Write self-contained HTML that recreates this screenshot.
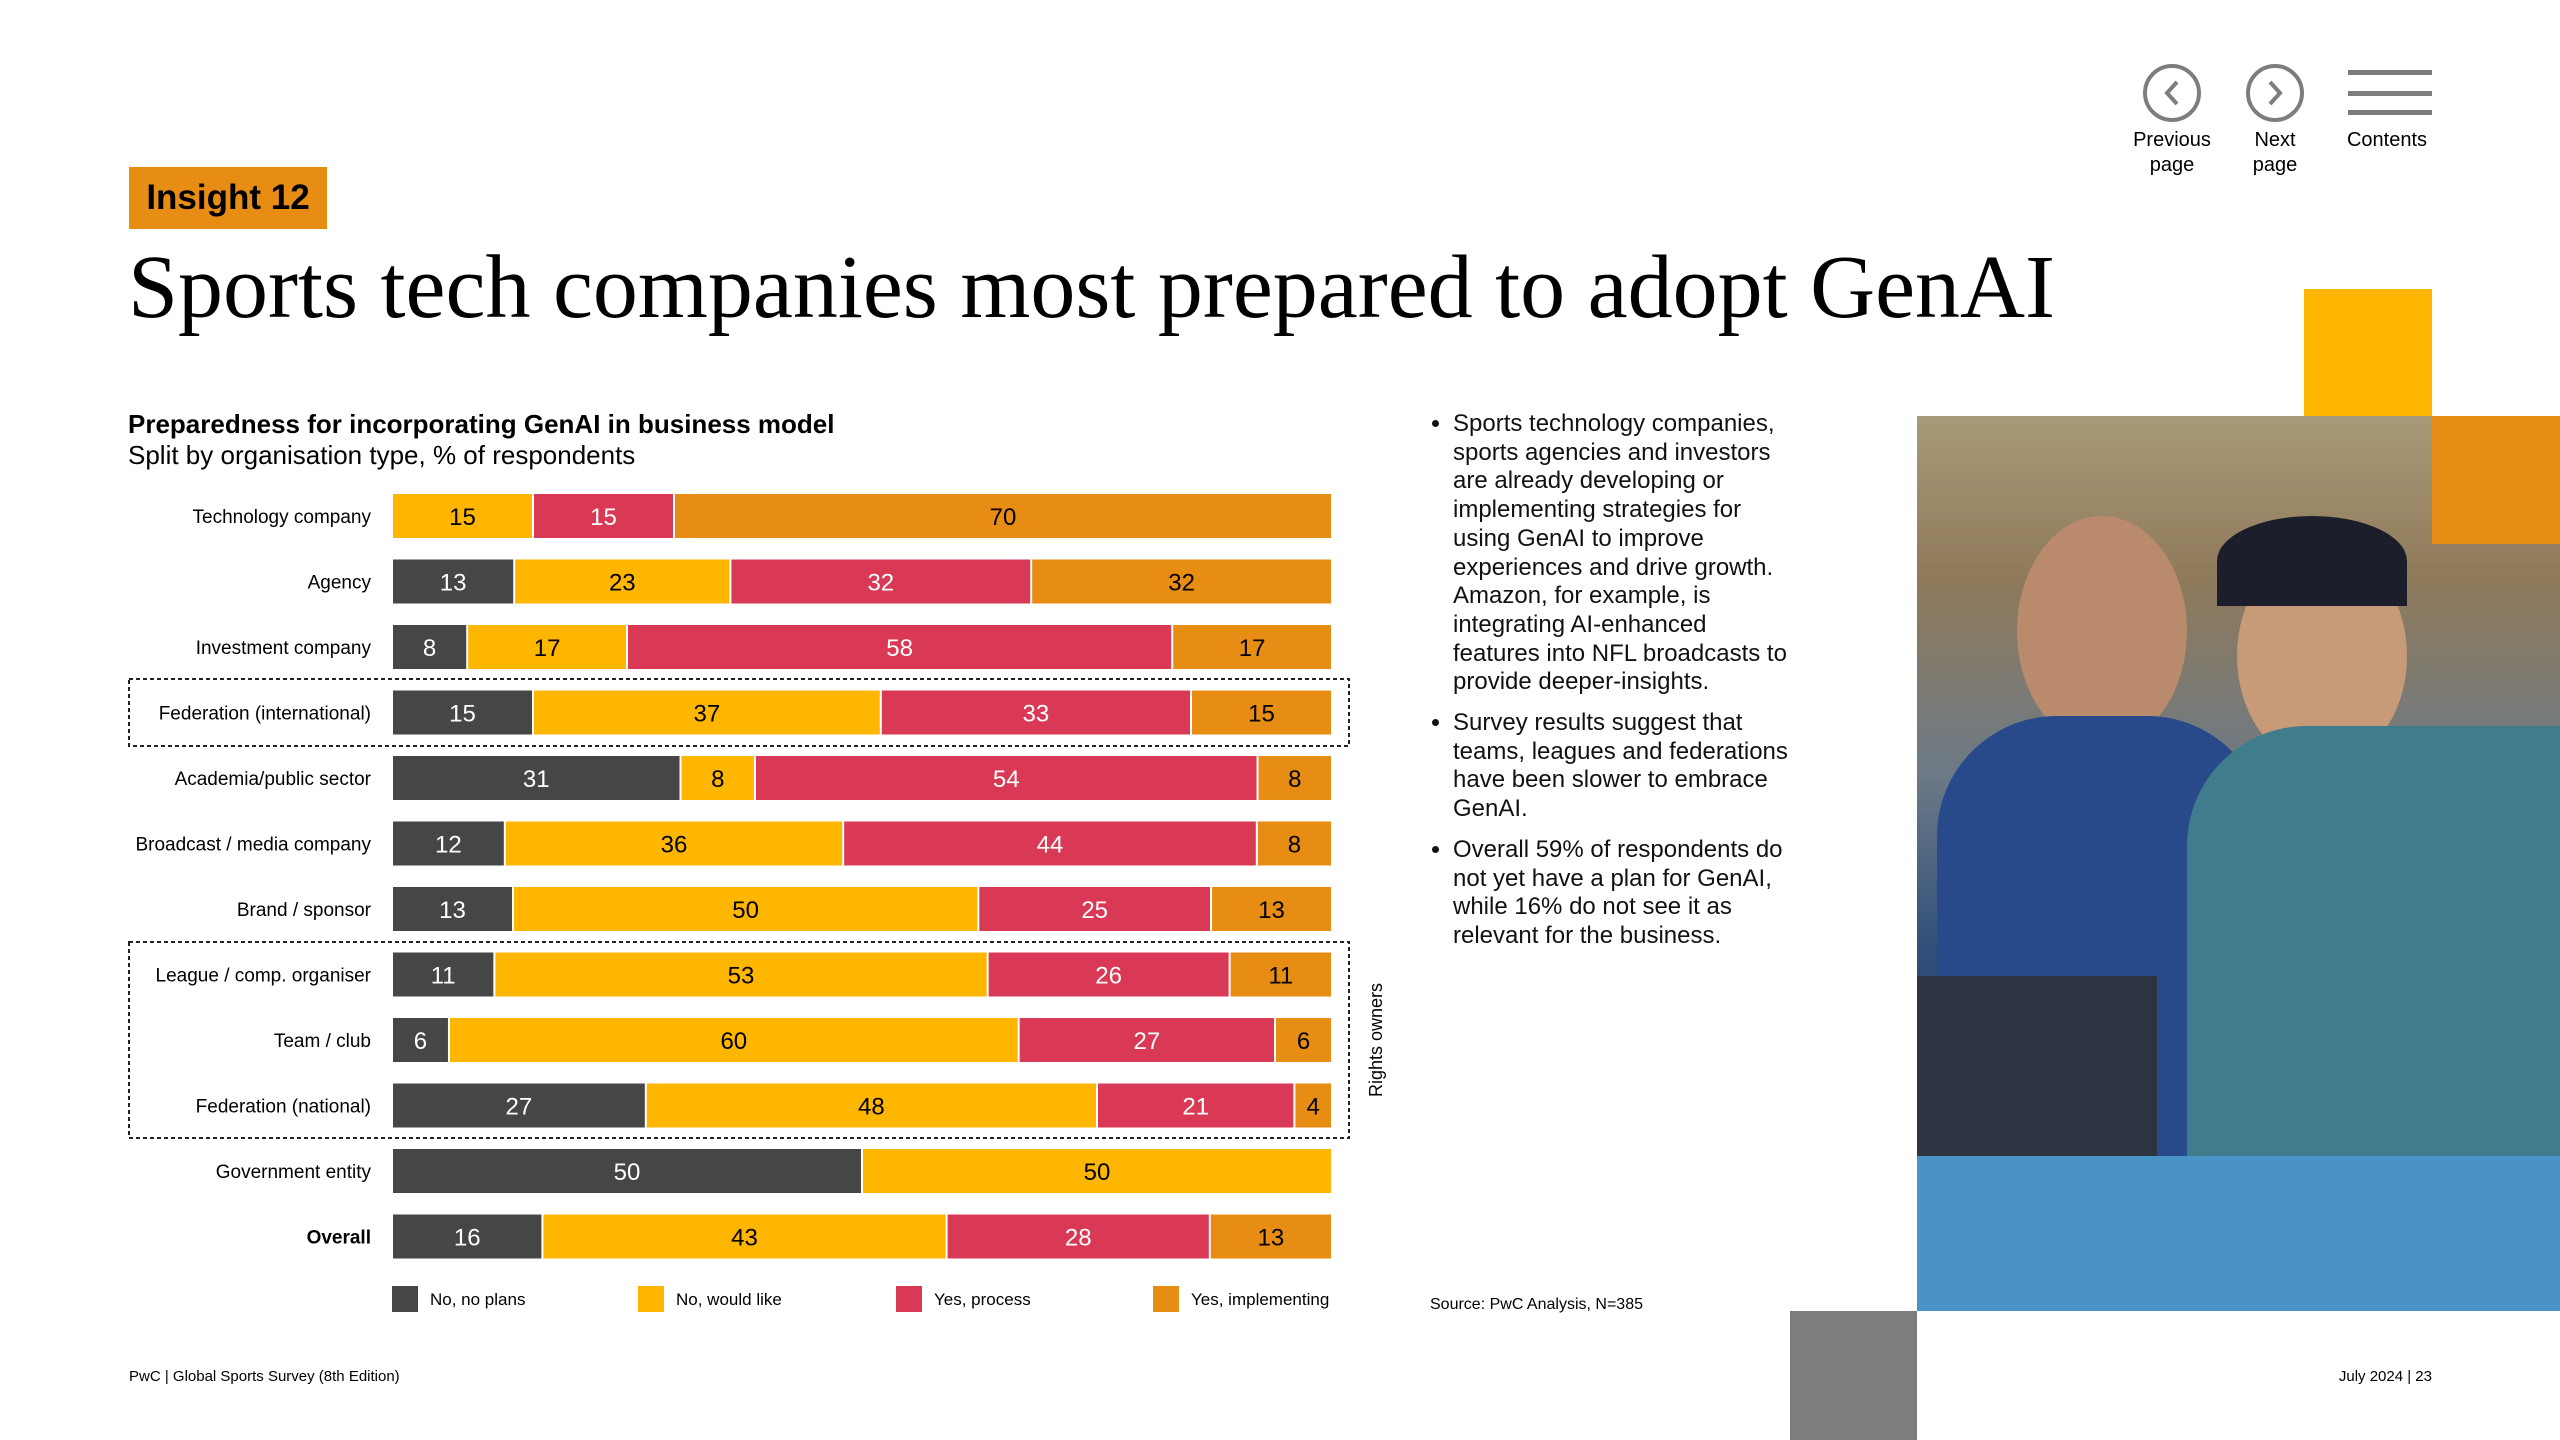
<!DOCTYPE html>
<html><head><meta charset="utf-8"><style>
body{margin:0;width:2560px;height:1440px;position:relative;background:#fff;font-family:"Liberation Sans",sans-serif;overflow:hidden;color:#000}
.abs{position:absolute}
.nav-l{font-size:20px;text-align:center;line-height:25px;width:110px}
.bul{position:absolute;left:1437px;width:345px;font-size:24px;line-height:28.7px;color:#111;margin:0}
.bul li{margin:0 0 12px 0}
</style></head><body>
<div class="abs" style="left:129px;top:167px;width:198px;height:62px;background:#E88D14;font-weight:bold;font-size:35px;line-height:62px;text-align:center">Insight 12</div>
<div class="abs" style="left:128px;top:236px;font-family:'Liberation Serif',serif;font-size:90px;white-space:nowrap">Sports tech companies most prepared to adopt GenAI</div>

<svg class="abs" style="left:2130px;top:60px" width="320" height="80">
<g><circle cx="42" cy="33" r="27" fill="none" stroke="#7d7d7d" stroke-width="4"/><path d="M47 22 L37 33 L47 44" fill="none" stroke="#7d7d7d" stroke-width="4"/></g>
<g><circle cx="145" cy="33" r="27" fill="none" stroke="#7d7d7d" stroke-width="4"/><path d="M140 22 L150 33 L140 44" fill="none" stroke="#7d7d7d" stroke-width="4"/></g>
<g fill="#7d7d7d"><rect x="218" y="10" width="84" height="5"/><rect x="218" y="31" width="84" height="5"/><rect x="218" y="50" width="84" height="5"/></g>
</svg>
<div class="abs nav-l" style="left:2117px;top:128px">Previous<br>page</div>
<div class="abs nav-l" style="left:2220px;top:128px">Next<br>page</div>
<div class="abs nav-l" style="left:2332px;top:128px">Contents</div>

<div class="abs" style="left:128px;top:409px;font-size:26px;font-weight:bold">Preparedness for incorporating GenAI in business model</div>
<div class="abs" style="left:128px;top:440px;font-size:26px">Split by organisation type, % of respondents</div>

<svg id="chart" class="abs" style="left:0;top:0" width="1420" height="1340"></svg>

<ul class="bul" style="top:410px;padding-left:16px">
<li>Sports technology companies, sports agencies and investors are already developing or implementing strategies for using GenAI to improve experiences and drive growth. Amazon, for example, is integrating AI-enhanced features into NFL broadcasts to provide deeper-insights.</li>
<li>Survey results suggest that teams, leagues and federations have been slower to embrace GenAI.</li>
<li>Overall 59% of respondents do not yet have a plan for GenAI, while 16% do not see it as relevant for the business.</li>
</ul>
<div class="abs" style="left:1430px;top:1296px;font-size:16px">Source: PwC Analysis, N=385</div>

<div class="abs" style="left:2304px;top:289px;width:128px;height:127px;background:#FFB600"></div>
<div class="abs" style="left:1917px;top:416px;width:643px;height:895px;overflow:hidden;background:linear-gradient(180deg,#a89a78 0%,#8f7a5a 18%,#6d7a86 40%,#2f4f7a 60%,#2a3a55 80%,#4d7fa6 100%)">
<div class="abs" style="left:100px;top:100px;width:170px;height:230px;border-radius:50%;background:#b98a6c"></div>
<div class="abs" style="left:20px;top:300px;width:330px;height:600px;border-radius:120px 120px 0 0;background:#284a8a"></div>
<div class="abs" style="left:320px;top:130px;width:170px;height:220px;border-radius:50%;background:#c79a78"></div>
<div class="abs" style="left:300px;top:100px;width:190px;height:90px;border-radius:50% 50% 0 0;background:#1c1f2b"></div>
<div class="abs" style="left:270px;top:310px;width:373px;height:600px;border-radius:120px 0 0 0;background:#3f7c8c"></div>
<div class="abs" style="left:0;top:560px;width:240px;height:340px;background:#2b3440"></div>
<div class="abs" style="left:0;top:740px;width:643px;height:160px;background:#4a93c6"></div>
</div>
<div class="abs" style="left:2432px;top:416px;width:128px;height:128px;background:#E88D14"></div>
<div class="abs" style="left:1790px;top:1311px;width:127px;height:129px;background:#7d7d7d"></div>

<div class="abs" style="left:129px;top:1368px;font-size:15px">PwC | Global Sports Survey (8th Edition)</div>
<div class="abs" style="left:2232px;width:200px;text-align:right;top:1368px;font-size:15px">July 2024 | 23</div>

<script>
const categories=["Technology company","Agency","Investment company","Federation (international)","Academia/public sector","Broadcast / media company","Brand / sponsor","League / comp. organiser","Team / club","Federation (national)","Government entity","Overall"];
const noPlans=[0,13,8,15,31,12,13,11,6,27,50,16];
const wouldLike=[15,23,17,37,8,36,50,53,60,48,50,43];
const process=[15,32,58,33,54,44,25,26,27,21,0,28];
const implementing=[70,32,17,15,8,8,13,11,6,4,0,13];
const seriesNames=["No, no plans","No, would like","Yes, process","Yes, implementing"];
const colors=["#464646","#FFB600","#D93954","#E88D14"];
const txtColors=["#fff","#000","#fff","#000"];
const series=[noPlans,wouldLike,process,implementing];
const svg=document.getElementById('chart');const NS='http://www.w3.org/2000/svg';
const x0=393,xW=940,y0=516,step=65.5,bh=44;
const ys=i=>y0+i*step;
function mk(t,a){const e=document.createElementNS(NS,t);for(const k in a)e.setAttribute(k,a[k]);svg.appendChild(e);return e;}
const b1=mk('rect',{x:129,y:679,width:1220,height:67,fill:'none',stroke:'#222','stroke-width':2,'stroke-dasharray':'4 3'});


const b2=mk('rect',{x:129,y:942,width:1220,height:196,fill:'none',stroke:'#222','stroke-width':2,'stroke-dasharray':'4 3'});


const ro=mk('text',{x:1382,y:1040,'font-size':18,'text-anchor':'middle',transform:'rotate(-90 1382 1040)'});ro.textContent='Rights owners';


categories.forEach((c,i)=>{
 const cy=ys(i);
 const total=series.reduce((a,s)=>a+s[i],0)||1;
 const xs=v=>v/total*xW;
 const l=mk('text',{x:371,y:cy+7,'font-size':19,'text-anchor':'end','font-weight':c==='Overall'?'bold':'normal'});l.textContent=c;
 
 
 let acc=0;
 series.forEach((s,k)=>{
  const v=s[i];if(!v)return;
  const r=mk('rect',{x:x0+xs(acc),y:cy-bh/2,width:xs(v)-2,height:bh,fill:colors[k]});
  
  
  const t=mk('text',{x:x0+xs(acc)+xs(v)/2-1,y:cy+9,'font-size':24,'text-anchor':'middle',fill:txtColors[k]});t.textContent=v;
  
  
  acc+=v;
 });
});
const lx=[392,638,896,1153];
seriesNames.forEach((n,k)=>{
 const r=mk('rect',{x:lx[k],y:1286,width:26,height:26,fill:colors[k]});
 
 
 const t=mk('text',{x:lx[k]+38,y:1305,'font-size':17});t.textContent=n;
 
 
});
</script>
</body></html>
